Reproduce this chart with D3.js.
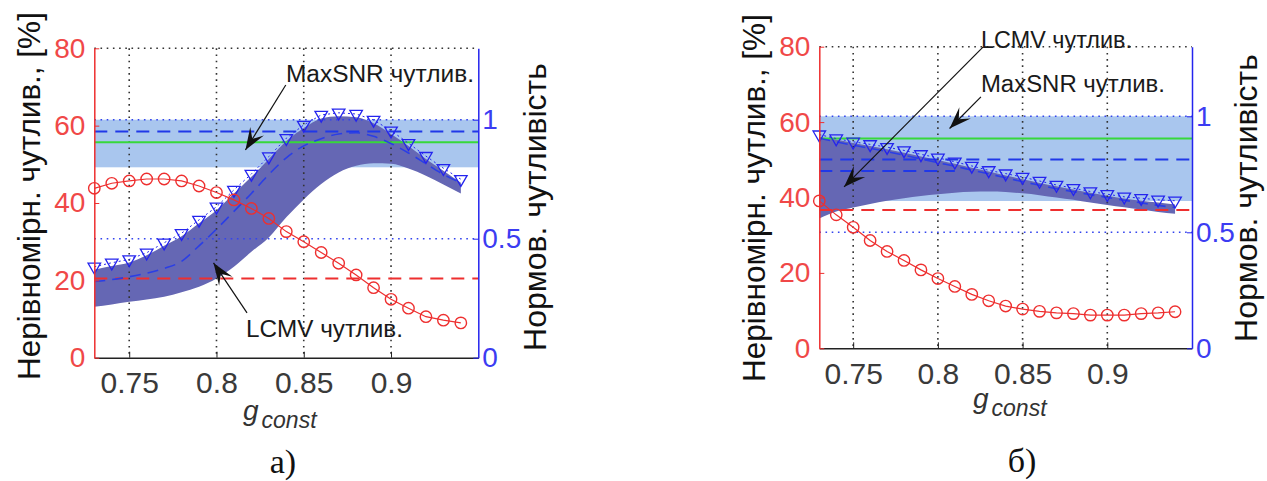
<!DOCTYPE html>
<html>
<head>
<meta charset="utf-8">
<script src="https://cdn.jsdelivr.net/npm/d3@7"></script>
<style>
body { margin: 0; background: #fff; }
svg { display: block; }
text { font-family: "Liberation Sans", Arial, sans-serif; }
</style>
</head>
<body>
<svg id="chart" width="1267" height="481"></svg>
<script>
// common x values (g_const) and axes
var gConst = [0.73, 0.74, 0.75, 0.76, 0.77, 0.78, 0.79, 0.80, 0.81, 0.82, 0.83,
              0.84, 0.85, 0.86, 0.87, 0.88, 0.89, 0.90, 0.91, 0.92, 0.93, 0.94];
var xDomain = [0.73, 0.95];
var xTicks = [0.75, 0.8, 0.85, 0.9];
var redDomain = [0, 80];
var redTicks = [0, 20, 40, 60, 80];
var blueDomain = [0, 1.3];
var blueTicks = [0, 0.5, 1];

// а) — nonuniformity [%] (red circles), normalized sensitivity (blue triangles)
var redA = [43.8, 45.1, 45.7, 46.2, 46.2, 45.7, 44.4, 42.7, 40.8, 38.6, 36.0,
            32.6, 30.0, 27.2, 24.4, 21.4, 18.1, 15.1, 12.8, 10.6, 9.7, 9.0];
var triA = [0.382, 0.399, 0.413, 0.441, 0.483, 0.523, 0.579, 0.634, 0.705, 0.772, 0.845,
            0.922, 0.978, 1.020, 1.029, 1.024, 0.999, 0.954, 0.901, 0.847, 0.796, 0.750];
var meanA = [0.320, 0.328, 0.340, 0.355, 0.375, 0.405, 0.470, 0.540, 0.615, 0.690, 0.770,
             0.840, 0.890, 0.920, 0.940, 0.945, 0.930, 0.900, 0.860, 0.815, 0.770, 0.735];
var lcmvHiA = [0.370, 0.385, 0.400, 0.430, 0.470, 0.510, 0.565, 0.620, 0.690, 0.760, 0.835,
               0.910, 0.965, 1.005, 1.015, 1.010, 0.985, 0.940, 0.890, 0.835, 0.785, 0.735];
var lcmvLoA = [0.214, 0.224, 0.235, 0.245, 0.256, 0.275, 0.298, 0.333, 0.382, 0.445, 0.505,
               0.590, 0.665, 0.730, 0.778, 0.806, 0.817, 0.815, 0.795, 0.765, 0.728, 0.690];
var maxsnrA = [0.80, 1.0];
var greenA = 0.905;
var blueLevelsA = [0.95];
var blueLevelEndsA = [0.95];
var redLevelA = 20.5;

// б)
var redB = [39.1, 35.4, 32.1, 28.6, 25.7, 23.3, 20.8, 18.5, 16.4, 14.3, 12.6,
            11.2, 10.4, 9.8, 9.4, 9.2, 8.8, 8.8, 8.8, 9.2, 9.4, 9.7];
var triB = [0.921, 0.904, 0.890, 0.879, 0.867, 0.853, 0.836, 0.821, 0.804, 0.786, 0.767,
            0.753, 0.738, 0.721, 0.704, 0.690, 0.676, 0.664, 0.653, 0.647, 0.640, 0.636];
var meanB = [0.905, 0.890, 0.875, 0.862, 0.848, 0.832, 0.816, 0.800, 0.785, 0.768, 0.752,
             0.735, 0.718, 0.703, 0.688, 0.675, 0.662, 0.650, 0.638, 0.627, 0.616, 0.607];
var lcmvHiB = [0.910, 0.900, 0.885, 0.872, 0.858, 0.843, 0.827, 0.812, 0.795, 0.778, 0.762,
               0.745, 0.729, 0.713, 0.698, 0.684, 0.670, 0.658, 0.646, 0.636, 0.628, 0.620];
var lcmvLoB = [0.560, 0.590, 0.607, 0.622, 0.636, 0.647, 0.657, 0.664, 0.671, 0.675, 0.676,
               0.674, 0.668, 0.660, 0.650, 0.640, 0.628, 0.618, 0.608, 0.598, 0.588, 0.580];
var maxsnrB = [0.635, 1.0];
var greenB = 0.904;
var blueLevelsB = [0.814, 0.764];
var blueLevelEndsB = [0.95, 0.81];
var redLevelB = 36.7;

var svg = d3.select('#chart');

var RED = '#ee2f2f', BLUE = '#2424ee';

var panels = [
    {
        left: 94.3, right: 478.3, top: 48.3, bottom: 357.7,
        red: redA, tri: triA, mean: meanA, hi: lcmvHiA, lo: lcmvLoA,
        light: maxsnrA, green: greenA, blueLevels: blueLevelsA, blueEnds: blueLevelEndsA,
        redLevel: redLevelA,
        titleL: { x: 40, y: 380, size: 31.5 },
        titleR: { x: 546, y: 207, size: 32 },
        gLabel: { x: 243, y: 420 },
        caption: { text: 'а)', x: 283, y: 473 },
        notes: [
            { text: 'MaxSNR чутлив.', at: [0.8398, 71.3], len: 188, from: [0.8397, 70.5], to: [0.8166, 53.7] },
            { text: 'LCMV чутлив.', at: [0.8169, 5.35], len: 157, from: [0.8175, 11.6], to: [0.7983, 24.5] }
        ]
    },
    {
        left: 819.3, right: 1192, top: 46.7, bottom: 348.3,
        red: redB, tri: triB, mean: meanB, hi: lcmvHiB, lo: lcmvLoB,
        light: maxsnrB, green: greenB, blueLevels: blueLevelsB, blueEnds: blueLevelEndsB,
        redLevel: redLevelB,
        titleL: { x: 765, y: 382, size: 31.5 },
        titleR: { x: 1257, y: 198, size: 32 },
        gLabel: { x: 973, y: 408 },
        caption: { text: 'б)', x: 1022, y: 472 },
        notes: [
            { text: 'LCMV чутлив.', at: [0.8254, 79.6], len: 151, from: [0.8266, 79.9], to: [0.7446, 42.8] },
            { text: 'MaxSNR чутлив.', at: [0.8254, 68.1], len: 184, from: [0.8254, 66.7], to: [0.8069, 58.3] }
        ]
    }
];

function arrow(g, x1, y1, x2, y2) {
    var a = Math.atan2(y2 - y1, x2 - x1) * 180 / Math.PI;
    g.append('line')
        .attr('x1', x1).attr('y1', y1).attr('x2', x2).attr('y2', y2)
        .attr('stroke', '#111').attr('stroke-width', 1.2);
    g.append('path')
        .attr('d', 'M0,0L-22,-8L-13,0L-22,8Z')
        .attr('transform', `translate(${x2},${y2}) rotate(${a})`)
        .attr('fill', '#111');
}

function drawPanel(p) {
    var x = d3.scaleLinear().domain(xDomain).range([p.left, p.right]);
    var yR = d3.scaleLinear().domain(redDomain).range([p.bottom, p.top]);
    var yB = d3.scaleLinear().domain(blueDomain).range([p.bottom, p.top]);
    var x0 = x(xDomain[0]), x1 = x(xDomain[1]);
    var g = svg.append('g');

    // MaxSNR sensitivity range
    g.append('rect')
        .attr('x', x0).attr('width', x1 - x0)
        .attr('y', yB(p.light[1]))
        .attr('height', yB(p.light[0]) - yB(p.light[1]))
        .attr('fill', '#a9c6ee');

    // LCMV sensitivity range
    var band = d3.area()
        .x((d, i) => x(gConst[i]))
        .y0((d, i) => yB(p.lo[i]))
        .y1(d => yB(d))
        .curve(d3.curveMonotoneX);
    g.append('path').datum(p.hi).attr('d', band).attr('fill', '#6567b4');

    // grid
    g.selectAll('line.vgrid').data(xTicks).join('line')
        .attr('class', 'vgrid')
        .attr('x1', d => x(d)).attr('x2', d => x(d))
        .attr('y1', p.top).attr('y2', p.bottom)
        .attr('stroke', '#333').attr('stroke-width', 1.6)
        .attr('stroke-dasharray', '1.6,4.6');
    g.append('line')
        .attr('x1', x0).attr('x2', x1)
        .attr('y1', yR(redDomain[1])).attr('y2', yR(redDomain[1]))
        .attr('stroke', '#333').attr('stroke-width', 1.6)
        .attr('stroke-dasharray', '1.6,4.6');
    g.selectAll('line.bgrid').data(blueTicks.filter(d => d > 0)).join('line')
        .attr('class', 'bgrid')
        .attr('x1', x0).attr('x2', x1)
        .attr('y1', d => yB(d)).attr('y2', d => yB(d))
        .attr('stroke', '#3344ee').attr('stroke-width', 1.6)
        .attr('stroke-dasharray', '1.6,4.6');

    // reference levels
    g.append('line')
        .attr('x1', x0).attr('x2', x1)
        .attr('y1', yB(p.green)).attr('y2', yB(p.green))
        .attr('stroke', '#37d83a').attr('stroke-width', 2);
    g.selectAll('line.blev').data(p.blueLevels).join('line')
        .attr('class', 'blev')
        .attr('x1', x0).attr('x2', (d, i) => x(p.blueEnds[i]))
        .attr('y1', d => yB(d)).attr('y2', d => yB(d))
        .attr('stroke', '#2038e8').attr('stroke-width', 2)
        .attr('stroke-dasharray', '13,8');
    g.append('line')
        .attr('x1', x0).attr('x2', x1)
        .attr('y1', yR(p.redLevel)).attr('y2', yR(p.redLevel))
        .attr('stroke', RED).attr('stroke-width', 2)
        .attr('stroke-dasharray', '13,8');

    // LCMV mean sensitivity
    g.append('path').datum(p.mean)
        .attr('d', d3.line().x((d, i) => x(gConst[i])).y(d => yB(d)).curve(d3.curveMonotoneX))
        .attr('fill', 'none').attr('stroke', '#2a3ee6')
        .attr('stroke-width', 1.6).attr('stroke-dasharray', '11,7');

    // normalized sensitivity, triangles
    g.append('path').datum(p.tri)
        .attr('d', d3.line().x((d, i) => x(gConst[i])).y(d => yB(d)))
        .attr('fill', 'none').attr('stroke', BLUE)
        .attr('stroke-width', 1).attr('stroke-dasharray', '2,3');
    g.selectAll('path.tri').data(p.tri).join('path')
        .attr('class', 'tri')
        .attr('d', d3.symbol(d3.symbolTriangle, 68))
        .attr('transform', (d, i) => `translate(${x(gConst[i])},${yB(d)}) rotate(180)`)
        .attr('fill', 'none').attr('stroke', BLUE).attr('stroke-width', 1.3);

    // nonuniformity, circles
    g.append('path').datum(p.red)
        .attr('d', d3.line().x((d, i) => x(gConst[i])).y(d => yR(d)))
        .attr('fill', 'none').attr('stroke', RED).attr('stroke-width', 1.2);
    g.selectAll('circle').data(p.red).join('circle')
        .attr('cx', (d, i) => x(gConst[i])).attr('cy', d => yR(d))
        .attr('r', 5.7)
        .attr('fill', 'none').attr('stroke', RED).attr('stroke-width', 1.4);

    // axes
    var ax = g.append('g')
        .attr('transform', `translate(0,${p.bottom})`)
        .call(d3.axisBottom(x).tickValues(xTicks).tickSize(-6).tickSizeOuter(0)
            .tickPadding(14).tickFormat(d3.format('')));
    ax.select('.domain').attr('stroke', '#222').attr('stroke-width', 1.5);
    ax.selectAll('.tick line').attr('stroke', '#222');
    ax.selectAll('text').attr('font-size', 30).attr('fill', '#3a3a3a')
        .style('font-family', '"Liberation Sans", Arial, sans-serif');

    var al = g.append('g')
        .attr('transform', `translate(${p.left},0)`)
        .call(d3.axisLeft(yR).tickValues(redTicks).tickSize(-5).tickSizeOuter(0).tickPadding(9));
    al.select('.domain').attr('stroke', RED).attr('stroke-width', 1.5);
    al.selectAll('.tick line').attr('stroke', RED);
    al.selectAll('text').attr('font-size', 28).attr('fill', '#f04848')
        .style('font-family', '"Liberation Sans", Arial, sans-serif');

    var ar = g.append('g')
        .attr('transform', `translate(${p.right},0)`)
        .call(d3.axisRight(yB).tickValues(blueTicks).tickSize(-5).tickSizeOuter(0)
            .tickPadding(4).tickFormat(d3.format('')));
    ar.select('.domain').attr('stroke', BLUE).attr('stroke-width', 1.5);
    ar.selectAll('.tick line').attr('stroke', BLUE);
    ar.selectAll('text').attr('font-size', 28).attr('fill', '#3c3cf2')
        .style('font-family', '"Liberation Sans", Arial, sans-serif');

    // axis titles
    g.append('text')
        .attr('transform', `translate(${p.titleL.x},${p.titleL.y}) rotate(-90)`)
        .attr('font-size', p.titleL.size).attr('fill', '#111')
        .text('Нерівномірн. чутлив., [%]');
    g.append('text')
        .attr('transform', `translate(${p.titleR.x},${p.titleR.y}) rotate(-90)`)
        .attr('text-anchor', 'middle')
        .attr('font-size', p.titleR.size).attr('fill', '#111')
        .text('Нормов. чутливість');

    var gl = g.append('text')
        .attr('x', p.gLabel.x).attr('y', p.gLabel.y)
        .attr('fill', '#333').attr('font-style', 'italic');
    gl.append('tspan').attr('font-size', 28).text('g');
    gl.append('tspan').attr('font-size', 23).attr('dy', 8).attr('dx', 3).text('const');

    g.append('text')
        .attr('x', p.caption.x).attr('y', p.caption.y)
        .attr('text-anchor', 'middle')
        .attr('font-size', 34).attr('fill', '#111')
        .style('font-family', '"Liberation Serif", "Times New Roman", serif')
        .text(p.caption.text);

    // annotations
    p.notes.forEach(n => {
        g.append('text')
            .attr('x', x(n.at[0])).attr('y', yR(n.at[1]))
            .attr('font-size', 23).attr('fill', '#1a1a1a')
            .attr('textLength', n.len).attr('lengthAdjust', 'spacingAndGlyphs')
            .text(n.text);
        arrow(g, x(n.from[0]), yR(n.from[1]), x(n.to[0]), yR(n.to[1]));
    });
}

panels.forEach(drawPanel);
</script>
</body>
</html>
